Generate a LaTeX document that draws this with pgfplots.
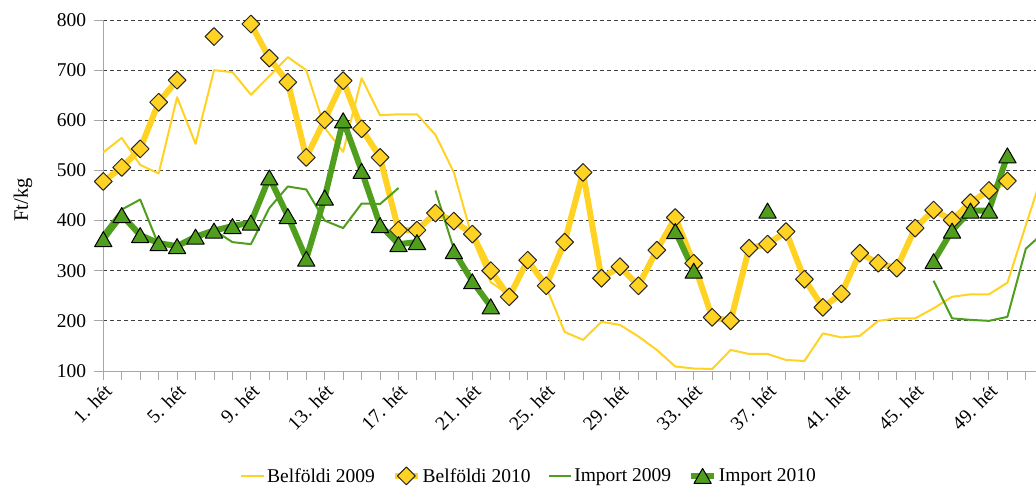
\documentclass[border=0pt]{standalone}
\usepackage{fontspec}
\setmainfont{Liberation Serif}
\usepackage{pgfplots}
\pgfplotsset{compat=1.18}
\usepackage{pgfplotstable}
\definecolor{byel}{RGB}{255,210,35}
\definecolor{igrn}{RGB}{80,158,30}
\definecolor{axgray}{RGB}{166,166,166}

\pgfplotstableread{
wk B09 B10 I09 I10
1 536 478 375 363
2 565 506 422 411
3 511 543 442 371
4 494 636 351 355
5 646 680 348 349
6 553 nan 360 368
7 700 767 381 380
8 696 nan 357 389
9 651 792 353 396
10 688 724 425 486
11 726 676 468 409
12 700 526 462 324
13 585 601 400 446
14 537 679 385 600
15 684 583 434 499
16 610 526 433 391
17 612 381 465 353
18 612 381 nan 357
19 571 415 460 nan
20 496 399 343 339
21 365 373 283 279
22 277 300 232 229
23 252 248 nan nan
24 318 321 nan nan
25 268 270 nan nan
26 178 357 nan nan
27 162 496 nan nan
28 198 285 nan nan
29 192 308 nan nan
30 169 270 nan nan
31 142 341 nan nan
32 109 406 nan 379
33 105 315 nan 300
34 104 207 nan nan
35 142 200 nan nan
36 134 345 nan nan
37 134 353 nan 420
38 122 378 nan nan
39 120 283 nan nan
40 175 227 nan nan
41 167 254 nan nan
42 170 335 nan nan
43 200 315 nan nan
44 205 305 nan nan
45 205 385 nan nan
46 225 421 280 319
47 248 401 205 380
48 253 436 202 420
49 253 460 200 420
50 276 479 208 530
51 391 nan 344 nan
52 504 nan 377 nan
}\data

\begin{document}
\begin{tikzpicture}
\begin{axis}[
  scale only axis, width=932.7pt, height=351pt,
  xmin=1, xmax=51.55, ymin=100, ymax=800,
  ytick={100,200,...,800},
  xtick={1,5,...,49},
  xticklabels={1. hét,5. hét,9. hét,13. hét,17. hét,21. hét,25. hét,29. hét,33. hét,37. hét,41. hét,45. hét,49. hét},
  minor xtick={1,...,52},
  axis lines=left,
  axis line style={-, draw=axgray, line width=1pt},
  tick style={draw=axgray, line width=1pt},
  tick align=outside,
  major tick length=9pt, minor tick length=9pt,
  ymajorgrids,
  grid style={black!75, dash pattern=on 4pt off 3pt, line width=1pt},
  font=\fontsize{19.5}{23}\selectfont,
  xticklabel style={rotate=45, anchor=north east, inner sep=2pt},
  yticklabel style={inner sep=2pt, xshift=-6pt},
  unbounded coords=jump,
  clip=false,
  ylabel={Ft/kg},
  every axis y label/.style={at={(axis description cs:-0.0862,0.487)}, rotate=90, anchor=center, font=\fontsize{20.5}{24}\selectfont},
  /pgf/number format/assume math mode=true,
  legend columns=-1,
  legend style={draw=none, fill=none, at={(axis description cs:0.4566,-0.299)}, anchor=center,
    font=\fontsize{19.5}{23}\selectfont,
    /tikz/every even column/.append style={column sep=15pt}, inner sep=0pt},
  legend image code/.code={\draw[mark repeat=2,mark phase=2,#1] plot coordinates {(0cm,0cm) (0.4cm,0cm) (0.8cm,0cm)};},
]
\addplot[byel, line width=2pt, line join=round, no markers] table[x=wk, y=B09] {\data};
\addlegendentry{Belföldi 2009}
\addplot[byel, line width=6pt, line join=round, mark=square*,
  mark options={rotate=45, mark size=6.3pt, fill=byel, draw=black!85, line width=1pt},
  legend image post style={mark size=3.8pt}] table[x=wk, y=B10] {\data};
\addlegendentry{Belföldi 2010}
\addplot[igrn, line width=2pt, line join=round, no markers] table[x=wk, y=I09] {\data};
\addlegendentry{Import 2009}
\addplot[igrn, line width=6pt, line join=round, mark=triangle*,
  mark options={yshift=-2.5pt, mark size=10pt, fill=igrn, draw=black, line width=1pt},
  legend image post style={mark size=6pt}] table[x=wk, y=I10] {\data};
\addlegendentry{Import 2010}
\end{axis}
\pgfresetboundingbox
\path[use as bounding box] (-103.3pt,-117pt) rectangle (932.7pt,371pt);
\end{tikzpicture}
\end{document}
